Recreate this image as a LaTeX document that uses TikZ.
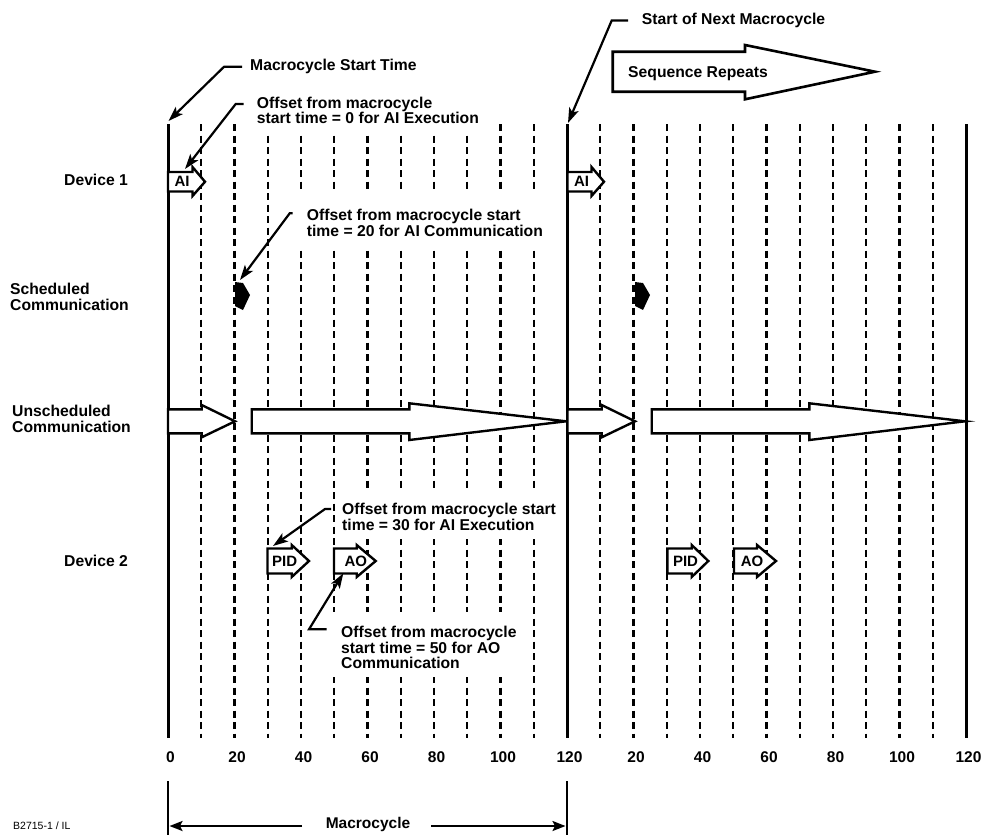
\documentclass[tikz,border=0pt]{standalone}
\usepackage{fontspec}
\setmainfont{Liberation Sans}
\usetikzlibrary{arrows.meta,calc}
\pgfdeclarelayer{grid}
\pgfdeclarelayer{mask}
\pgfsetlayers{grid,mask,main}
\tikzset{
  lbl/.style={font=\fontsize{15.7}{15.7}\selectfont\bfseries, inner sep=0pt, anchor=north west, align=left},
  ticklbl/.style={font=\fontsize{15.5}{16}\selectfont\bfseries, inner sep=0pt},
  boxtxt/.style={font=\fontsize{15}{15}\selectfont\bfseries, inner sep=0pt},
  gridline/.style={line width=2.1pt, dash pattern=on 7pt off 4.5pt},
  mainline/.style={line width=3pt},
  leader/.style={line width=2.2pt, -{Stealth[length=15pt,width=10pt,inset=3.5pt]}},
  blockarrow/.style={draw=black, fill=white, line width=2.4pt, line join=miter, miter limit=10},
  seqarrow/.style={draw=black, fill=white, line width=2.6pt, line join=miter, miter limit=10},
  dimarrow/.style={line width=2.2pt, -{Stealth[length=13pt,width=10pt,inset=2.5pt]}},
}
% style, xleft, ytop, ybottom, xhead, headtop, headbottom, xtip
\newcommand\blockarr[8]{\path[#1] (#2,#3) -- (#5,#3) -- (#5,#6) -- (#8,{(#3+#4)/2}) -- (#5,#7) -- (#5,#4) -- (#2,#4) -- cycle;}
\begin{document}
\begin{tikzpicture}[x=1pt,y=-1pt]
\useasboundingbox (0,0) rectangle (984,835);

% dashed grid lines
\begin{pgfonlayer}{grid}
\foreach \k in {1,...,11} \draw[gridline] ({168+33.25*\k},124) -- ({168+33.25*\k},738);
\foreach \k in {13,...,23} \draw[gridline] ({168+33.25*\k},124) -- ({168+33.25*\k},738);
\end{pgfonlayer}

% main solid lines
\draw[mainline] (168,124) -- (168,738);
\draw[mainline] (567,124) -- (567,738);
\draw[mainline] (966,124) -- (966,738);

% text labels
\node[lbl] (tMST) at (250,59.3) {Macrocycle Start Time};
\node[lbl] (t0) at (256.7,96.7) {Offset from macrocycle\\start time = 0 for AI Execution};
\node[lbl] (tSNM) at (641.7,13) {Start of Next Macrocycle};
\node[lbl] (t20) at (306.7,209.3) {Offset from macrocycle start\\time = 20 for AI Communication};
\node[lbl] (t30) at (342,503) {Offset from macrocycle start\\time = 30 for AI Execution};
\node[lbl] (t50) at (341,626) {Offset from macrocycle\\start time = 50 for AO\\Communication};

\node[lbl] (d1) at (64,174) {Device 1};
\node[lbl] (sc) at (10,283.3) {Scheduled\\Communication};
\node[lbl] (uc) at (12,405) {Unscheduled\\Communication};
\node[lbl] (d2) at (64,555) {Device 2};

% white areas behind texts that interrupt the grid
\begin{pgfonlayer}{mask}
\fill[white] ($(t0.north west)+(-8pt,0pt)$) rectangle ($(t0.south east)+(8pt,-11pt)$);
\fill[white] ($(t20.north west)+(-10pt,16pt)$) rectangle ($(t20.south east)+(8pt,-9pt)$);
\fill[white] ($(t30.north west)+(-6pt,12pt)$) rectangle ($(t30.south east)+(8pt,-8pt)$);
\fill[white] ($(t50.north west)+(-11pt,14pt)$) rectangle ($(t50.south east)+(8pt,-8pt)$);
\end{pgfonlayer}

% Sequence repeats arrow
\blockarr{seqarrow}{612.7}{51.7}{91.7}{745}{45}{99.3}{875}
\node[lbl] (tSeq) at (628,66.7) {Sequence Repeats};

% Device 1 AI blocks
\blockarr{blockarrow}{168}{172}{191.5}{192.5}{167}{196}{205}
\node[boxtxt] (ai1) at (182,181.8) {AI};
\blockarr{blockarrow}{567.5}{172}{191.5}{591.5}{167}{196}{604}
\node[boxtxt] (ai2) at (581.5,181.8) {AI};

% scheduled communication
\fill (235,282) -- (243,283) -- (250,295) -- (243,310) -- (235,306) -- cycle;
\fill (635,282) -- (643,283) -- (650,295) -- (643,310) -- (635,306) -- cycle;

% unscheduled communication
\blockarr{blockarrow}{168}{409.3}{433.3}{201.7}{405}{437.3}{235}
\blockarr{blockarrow}{251.7}{409.3}{433.3}{409.3}{403.3}{440}{566}
\blockarr{blockarrow}{567.5}{409.3}{433.3}{601.7}{405}{437.3}{635}
\blockarr{blockarrow}{651.7}{409.3}{433.3}{809.3}{403.3}{440}{965}

% Device 2 blocks
\blockarr{blockarrow}{267.5}{548.5}{573.5}{291.7}{545}{577}{309}
\node[boxtxt] (pid1) at (284.7,561.5) {PID};
\blockarr{blockarrow}{334}{548.5}{573.5}{356.7}{545}{577}{375.7}
\node[boxtxt] (ao1) at (355.8,561.5) {AO};
\blockarr{blockarrow}{667.3}{548.5}{573.5}{691.7}{545}{577}{708.3}
\node[boxtxt] (pid2) at (685.5,561.5) {PID};
\blockarr{blockarrow}{734}{548.5}{573.5}{757}{545}{577}{776}
\node[boxtxt] (ao2) at (752,561.5) {AO};

% leader targets
\coordinate (L0top) at (168.5,121);
\coordinate (L12top) at (568,123);
\coordinate (ai1tgt) at (185,169);
\coordinate (sc1tgt) at (240,280);
\coordinate (pid1tgt) at (273,546);
\coordinate (ao1tgt) at (343.3,573.3);

% leaders
\draw[leader] ([xshift=-8pt]tMST.west) -- ++(-18,0) -- (L0top);
\draw[leader] ([shift={(-13pt,-7.3pt)}]t0.north west) -- ++(-8,0) -- (ai1tgt);
\draw[leader] ([xshift=-13.7pt]tSNM.west) -- ++(-16.3,0) -- (L12top);
\draw[leader] ([shift={(-14pt,-4pt)}]t20.north west) -- ++(-3,0) -- (sc1tgt);
\draw[leader] ([shift={(-11pt,-6pt)}]t30.north west) -- ++(-6,0) -- (pid1tgt);
\draw[leader] ([shift={(-14.3pt,-3.3pt)}]t50.north west) -- ++(-17.7,0) -- (ao1tgt);

% axis labels
\foreach \k/\t in {0/0,2/20,4/40,6/60,8/80,10/100,12/120,14/20,16/40,18/60,20/80,22/100,24/120}
  \node[ticklbl] (ax\k) at ({168+33.25*\k+2.5},757) {\t};

% macrocycle dimension
\draw[line width=1.6pt] (168,781) -- (168,835);
\draw[line width=1.6pt] (567,781) -- (567,835);
\node[ticklbl, anchor=base] (mc) at (368,828.5) {Macrocycle};
\coordinate (mcL) at (302,826);
\coordinate (mcR) at (431,826);
\coordinate (brL) at (169.5,826);
\coordinate (brR) at (565.5,826);
\draw[dimarrow] (mcL) -- (brL);
\draw[dimarrow] (mcR) -- (brR);

\node[font=\fontsize{10.5}{12}\selectfont, inner sep=0pt, anchor=base west] (fig) at (13,829.5) {B2715-1 / IL};
\end{tikzpicture}
\end{document}
